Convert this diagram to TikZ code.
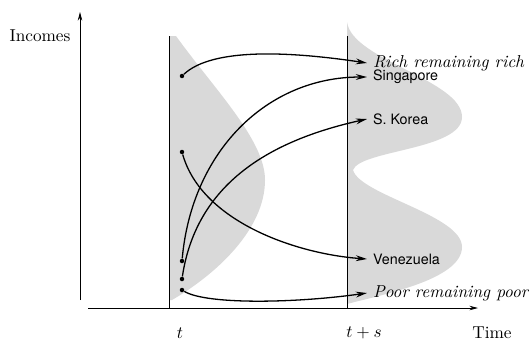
\documentclass[tikz,border=0pt]{standalone}
\usepackage{fontspec}
\setsansfont{TeX Gyre Heros}
\usetikzlibrary{arrows.meta}
\definecolor{densgray}{RGB}{217,217,217}

\begin{document}
\begin{tikzpicture}[
    x=0.58pt, y=-0.58pt,
    axis/.style={line width=0.45pt, -{Stealth[length=5pt, width=2.6pt]}},
    timeline/.style={line width=0.45pt},
    density/.style={fill=densgray, draw=none},
    dot/.style={circle, fill=black, inner sep=0pt, minimum size=2.6pt},
    country/.style={anchor=west, font=\sffamily\fontsize{8.3}{10}\selectfont},
    group/.style={anchor=west, font=\itshape},
    arrow/.style={-{Stealth[length=6.5pt, width=3.4pt]}, line width=0.75pt}
]
\useasboundingbox (0,0) rectangle (529,343);

\fill [density] (169,36) -- (176,36) .. controls (215,90) and (265,140) .. (265,180)
    .. controls (265,230) and (215,275) .. (172,300) -- (169,300) -- cycle;
\fill [density] (347,22) .. controls (352,60) and (462,80) .. (462,117)
    .. controls (462,150) and (360,150) .. (353,170)
    .. controls (360,195) and (462,215) .. (462,247)
    .. controls (462,280) and (380,295) .. (347,304) -- cycle;

\coordinate (ybot) at (80,300);
\coordinate (ytop) at (80,12);
\coordinate (xbeg) at (88,308);
\coordinate (xend) at (478,308);
\coordinate (ttop) at (169,36);
\coordinate (tbot) at (169,308);
\coordinate (stop) at (347,36);
\coordinate (sbot) at (347,308);

\draw [axis] (ybot) -- (ytop);
\draw [axis] (xbeg) -- (xend);
\draw [timeline] (ttop) -- (tbot);
\draw [timeline] (stop) -- (sbot);

\node (incomes) at (40,36) {Incomes};
\node (tlabel) at (180,333) {$t$};
\node (tslabel) at (364,333) {$t+s$};
\node (time) at (492,333) {Time};

\node (rich0) [dot] at (182,76) {};
\node (ven0) [dot] at (182,152) {};
\node (sing0) [dot] at (182,261) {};
\node (kor0) [dot] at (182,279) {};
\node (poor0) [dot] at (182,290) {};

\node (rich) [group] at (367,63) {Rich remaining rich};
\node (sing) [country] at (367,77) {Singapore};
\node (kor) [country] at (367,119) {S. Korea};
\node (ven) [country] at (367,259) {Venezuela};
\node (poor) [group] at (367,293) {Poor remaining poor};

\draw [arrow] (rich0) .. controls +(30,-28) and +(-80,-12) .. (rich.west);
\draw [arrow] (ven0) .. controls +(20,70) and +(-70,-5) .. (ven.west);
\draw [arrow] (sing0) .. controls +(10,-110) and +(-100,0) .. (sing.west);
\draw [arrow] (kor0) .. controls +(15,-100) and +(-90,20) .. (kor.west);
\draw [arrow] (poor0) .. controls +(25,15) and +(-70,10) .. (poor.west);

\end{tikzpicture}
\end{document}
